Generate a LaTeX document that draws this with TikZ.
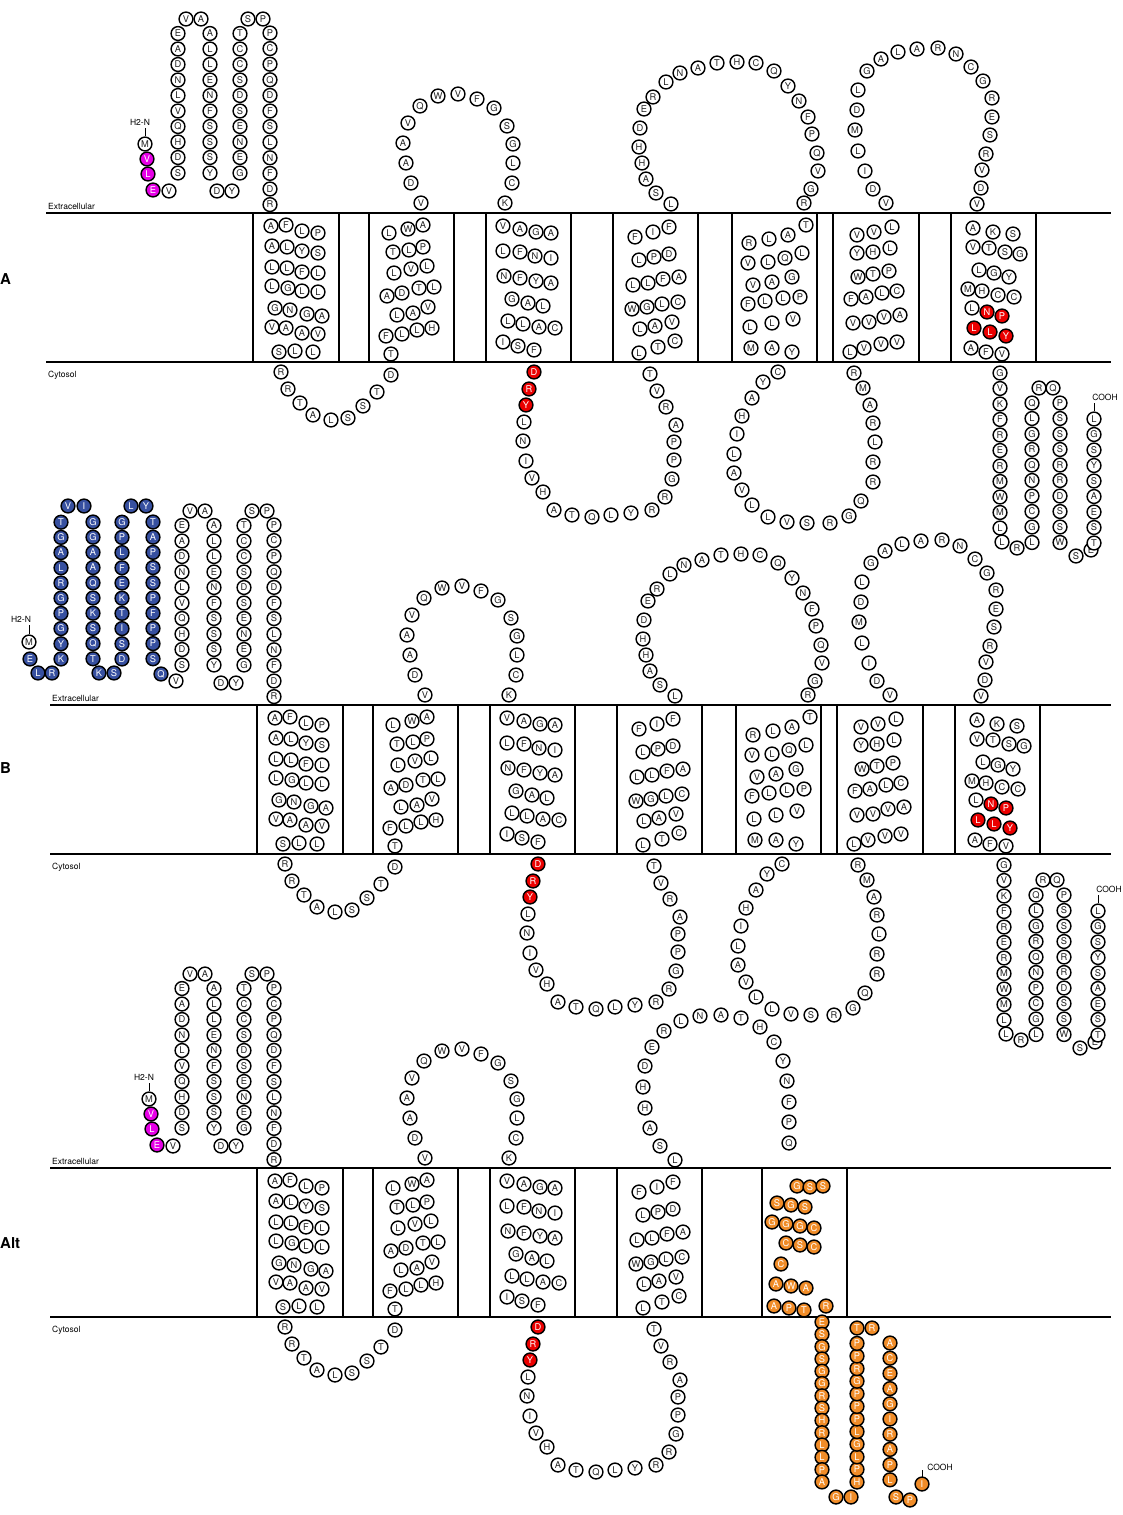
\documentclass[tikz,border=0pt]{standalone}
\usepackage{fontspec}
\setmainfont{TeX Gyre Heros}
\definecolor{txt}{RGB}{35,35,35}
\definecolor{resred}{RGB}{235,0,0}
\definecolor{resmag}{RGB}{230,0,230}
\definecolor{resblue}{RGB}{55,80,160}
\definecolor{resorange}{RGB}{240,140,40}
\tikzset{
  res/.style={circle, draw=black, line width=1.45pt, minimum size=13.8pt, inner sep=0pt,
    font=\fontsize{9.3}{9.3}\selectfont},
  rw/.style={res, fill=white, text=txt},
  rr/.style={res, fill=resred, text=white},
  rm/.style={res, fill=resmag, text=white},
  rb/.style={res, fill=resblue, text=white},
  ro/.style={res, fill=resorange, text=white},
  mem/.style={line width=1.5pt},
  tmbox/.style={draw=black, line width=2pt},
  small/.style={font=\fontsize{8.5}{8.5}\selectfont, inner sep=0pt},
  plab/.style={font=\bfseries\fontsize{15}{15}\selectfont, inner sep=0pt, anchor=west}
}
\newcounter{rc}
\newcommand\R[4]{\stepcounter{rc}\node[#1] (r\arabic{rc}) at ({#2},{#3}) {#4};}
\newcommand\RL[2]{\foreach \x/\y/\l in {#2}{\R{#1}{\x}{\y}{\l}}}
\newcommand\VC[5]{\foreach \l [count=\i from 0] in {#5}{\R{#1}{#2}{#3+\i*(#4)}{\l}}}

\newcommand\PartNterm{%
  \VC{rw}{178}{173}{-15.5}{S,D,H,Q,V,L,N,D,A,E}
  \RL{rw}{186/19/V,201/19/A}
  \VC{rw}{210}{33.5}{15.5}{A,L,L,E,N,F,S,S,S,Y}
  \RL{rw}{217/191/D,232/191/Y}
  \VC{rw}{240}{173}{-15.5}{G,E,N,E,S,D,S,C,C,T}
  \RL{rw}{248/19/S,263/19/P}
  \VC{rw}{270}{33}{15.6}{P,C,P,Q,D,F,S,L,N,F,D,R}
}
\newcommand\PartNA{%
  \node[small] (h2n\arabic{rc}) at (140,122) {H2-N};
  \draw[line width=1pt] (145,128) -- (145,136);
  \RL{rw}{145/144/M}
  \RL{rm}{147/159/V,148/174/L,153/190/E}
  \RL{rw}{169/191/V}
}
\newcommand\PartTMa{%
  % TM1
  \RL{rw}{271/226/A,286/225/F,302/231/L,318/233/P,
    272/246/A,287/247/L,302/251/Y,318/253/S,
    272/267/L,287/268/L,302/272/F,318/273/L,
    272/286/L,288/288/G,302/291/L,318/292/L,
    275/308/G,290/310/N,307/314/G,322/316/A,
    272/327/V,286/328/A,302/333/A,318/334/V,
    279/352/S,295/351/L,313/352/L}
  % ICL1
  \RL{rw}{281/372/R,288/389/R,300/403/T,313/415/A,331/420/L,348/418/S,363/406/S,377/392/T,391/375/D}
  % TM2
  \RL{rw}{389/233/L,408/229/W,423/225/A,
    393/252/T,409/250/L,423/247/P,
    394/273/L,411/269/V,427/266/L,
    387/296/A,402/293/D,419/288/T,434/287/L,
    397/315/L,413/313/A,428/307/V,
    386/336/F,402/334/L,417/330/L,432/328/H,
    391/354/T}
  % ECL1
  \RL{rw}{421/203/V,411/183/D,406/163/A,403/143/A,408/123/V,420/106/Q,438/96/W,458/94/V,477/99/F,494/108/G,507/126/S,513/144/G,513/163/L,512/183/C,505/203/K}
  % TM3
  \RL{rw}{503/226/V,520/229/A,536/232/G,551/233/A,
    503/251/L,520/252/F,535/256/N,551/258/I,
    504/276/N,520/278/F,536/281/Y,551/283/A,
    512/299/G,528/303/A,543/306/L,
    508/321/L,523/324/L,539/327/A,555/328/C,
    503/342/I,518/346/S,534/350/F}
  % ICL2
  \RL{rr}{534/372/D,529/389/R,526/405/Y}
  \RL{rw}{524/422/L,523/441/N,526/461/I,532/478/V,543/492/H,554/510/A,572/515/T,592/517/Q,611/515/L,631/513/Y,652/510/R,665/497/R,672/479/G,674/460/P,674/442/P,676/425/A,666/407/R,657/391/V,650/374/T}
  % TM4
  \RL{rw}{635/237/F,653/232/I,669/227/F,
    639/260/L,654/257/P,669/254/D,
    633/285/L,648/283/L,663/279/F,679/277/A,
    632/309/W,647/307/G,662/304/L,678/302/C,
    640/329/L,655/326/A,672/322/V,
    639/353/L,658/347/T,675/341/C}
}
\newcommand\PartRest{%
  % ECL2
  \RL{rw}{671/204/L,656/193/S,646/179/A,642/163/H,639/147/H,640/128/D,644/109/E,653/97/R,666/82/L,680/73/N,698/68/A,717/63/T,737/62/H,756/63/C,774/71/Q,788/86/Y,799/101/N,808/117/F,812/134/P,817/153/Q,818/171/V,811/189/G,804/203/R}
  % TM5
  \RL{rw}{749/243/R,769/239/L,788/235/A,806/225/T,
    748/263/V,768/262/L,785/258/Q,802/253/L,
    753/285/V,772/282/A,792/277/G,
    748/304/F,765/301/L,783/298/L,800/297/P,
    750/327/L,772/323/L,793/319/V,
    751/348/M,772/348/A,792/352/Y}
  % ICL3
  \RL{rw}{778/372/C,763/382/Y,752/398/A,742/416/H,737/434/I,734/454/L,734/473/A,742/490/V,752/505/L,768/517/L,787/522/V,807/523/S,830/523/R,849/516/G,861/501/Q,873/482/R,873/462/R,875/442/L,873/423/R,870/405/A,863/388/M,854/373/R}
  % TM6
  \RL{rw}{857/235/V,874/232/V,892/227/L,
    857/253/Y,873/252/H,890/248/L,
    858/277/W,873/274/T,889/271/P,
    851/299/F,866/297/A,882/293/L,897/291/C,
    853/323/V,869/322/V,884/317/V,900/315/A,
    850/352/L,864/348/V,881/344/V,897/342/V}
  % ECL3
  \RL{rw}{886/203/V,873/189/D,865/171/I,858/151/L,855/130/M,857/110/D,858/90/L,867/71/G,881/59/A,898/52/L,917/49/A,938/48/R,956/54/N,971/67/C,983/81/G,992/98/R,992/117/E,990/135/S,986/154/R,982/170/V,981/188/D,977/204/V}
  % TM7
  \RL{rw}{973/228/A,993/232/K,1013/234/S,
    973/247/V,989/248/T,1005/252/S,1020/254/G,
    979/270/L,994/273/G,1009/277/Y,
    968/289/M,982/291/H,998/295/C,1014/297/C,
    972/308/L,971/348/A,986/352/F,1002/354/V}
  \RL{rr}{987/312/N,1002/316/P,974/328/L,990/332/L,1006/336/Y}
  % C-term
  \VC{rw}{1000}{373}{15.5}{G,V,K,F,R,E,R,M,W,M,L}
  \RL{rw}{1002/542/L,1017/548/R}
  \VC{rw}{1032}{403}{15.5}{Q,L,G,R,Q,N,P,C,G,L}
  \RL{rw}{1039/388/R,1053/388/Q}
  \VC{rw}{1060}{403}{15.5}{P,S,S,S,R,R,D,S,S,W}
  \RL{rw}{1076/556/S,1091/550/E}
  \VC{rw}{1094}{419}{15.5}{L,G,S,Y,S,A,E,S,T}
  \node[small] (cooh\arabic{rc}) at (1105,397) {COOH};
  \draw[line width=1pt] (1094,403) -- (1094,411);
}
\newcommand\Membrane[1]{%
  \draw[mem] (46,213) -- (#1,213);
  \draw[mem] (46,362) -- (#1,362);
  \node[small, anchor=south west] (ext\arabic{rc}) at (48,210) {Extracellular};
  \node[small, anchor=north west] (cyt\arabic{rc}) at (48,371) {Cytosol};
}
\newcommand\BoxesL{%
  \foreach \a/\b in {253/339,369/454,486/571,613/698}{\draw[tmbox] (\a,213) rectangle (\b,362);}
}
\newcommand\BoxesR{%
  \foreach \a/\b in {732/817,833/919,951/1036}{\draw[tmbox] (\a,213) rectangle (\b,362);}
}

\begin{document}
\begin{tikzpicture}[x=1pt,y=-1pt]
\useasboundingbox (0,0) rectangle (1123,1515);
\fill[white] (0,0) rectangle (1123,1515);

% ---------------- Panel A
\Membrane{1111}
\BoxesL \BoxesR
\node[plab] (labA) at (0,279) {A};
\PartNA
\PartNterm
\PartTMa
\PartRest

% ---------------- Panel B
\begin{scope}[shift={(4,492)}]
  \Membrane{1107}
  \BoxesL \BoxesR
  \PartNterm
  \PartTMa
  \PartRest
\end{scope}
\node[plab] (labB) at (0,768) {B};
\node[small] (h2nB) at (21,619) {H2-N};
\draw[line width=1pt] (29,625) -- (29,634);
\RL{rw}{29/642/M}
\RL{rb}{30/659/E,38/673/L,52/673/R}
\VC{rb}{61}{659}{-15.2}{K,Y,G,P,G,R,L,A,G,T}
\RL{rb}{68/506/V,84/506/I}
\VC{rb}{93}{522}{15.2}{G,G,A,A,Q,S,K,S,Q,T}
\RL{rb}{99/673/K,114/673/S}
\VC{rb}{122}{659}{-15.2}{D,S,I,T,K,E,F,L,P,G}
\RL{rb}{131/506/L,146/506/Y}
\VC{rb}{153}{522}{15.2}{T,A,P,S,S,P,F,P,P,S}
\RL{rb}{161/674/Q}
\RL{rw}{176/681/V}

% ---------------- Panel Alt
\begin{scope}[shift={(4,955)}]
  \Membrane{1107}
  \BoxesL
  \PartNA
  \PartNterm
  \PartTMa
\end{scope}
\node[plab] (labAlt) at (0,1243) {Alt};
\draw[tmbox] (762,1168) rectangle (847,1317);
% Alt ECL2
\RL{rw}{675/1160/L,660/1146/S,650/1128/A,645/1108/H,643/1087/H,645/1066/D,652/1047/E,664/1031/R,681/1021/L,700/1016/N,721/1015/A,741/1018/T,760/1027/H,774/1042/C,783/1061/Y,787/1081/N,789/1102/F,789/1122/P,789/1143/Q}
% orange, in the box
\RL{ro}{797/1186/G,810/1187/S,823/1186/S,
  777/1203/S,791/1205/G,805/1207/S,
  772/1222/G,786/1224/G,800/1226/G,814/1228/C,
  786/1243/C,800/1245/S,814/1247/C,
  781/1264/C,
  776/1284/A,791/1286/W,806/1288/A,
  774/1306/A,789/1308/P,804/1310/T,826/1306/R}
\VC{ro}{822}{1322}{12.3}{E,S,G,S,G,G,R,S,H,R,L,L,P,A}
\RL{ro}{836/1497/G,851/1497/I}
\VC{ro}{857}{1482}{-12.6}{H,P,L,G,L,P,P,P,G,R,P,P}
\RL{ro}{857/1328/T,872/1328/R}
\VC{ro}{890}{1343}{15.2}{A,C,E,A,G,I,R,A,P,L}
\RL{ro}{896/1497/S,910/1500/P,922/1484/I}
\node[small] (coohAlt) at (940,1467) {COOH};
\draw[line width=1pt] (922,1470) -- (922,1477);
\end{tikzpicture}
\end{document}
